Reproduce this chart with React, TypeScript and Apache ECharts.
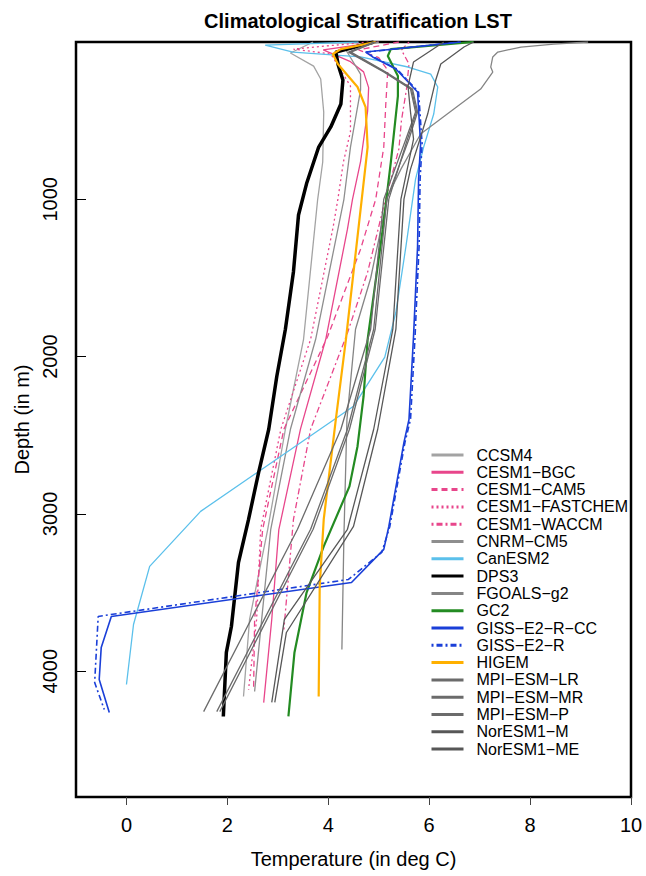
import React, { useEffect, useRef } from "react";
import * as echarts from "echarts";

// ---------- data (temperature in deg C, depth in m) ----------
const xTicks = [0, 2, 4, 6, 8, 10];
const yTicks = [1000, 2000, 3000, 4000];

const ccsm4Depth = [0, 70, 153, 235, 445, 763, 1000, 1890, 2462, 3098, 3671, 4161];
const ccsm4Temp = [3.7, 3.25, 3.71, 3.85, 3.91, 3.89, 3.79, 3.51, 3.15, 2.8, 2.44, 2.32];

const bgcDepth = [0, 50, 125, 190, 290, 440, 760, 1000, 1190, 1890, 2460, 3100, 3670, 4200];
const bgcTemp = [5.0, 3.9, 4.44, 4.7, 4.8, 4.78, 4.64, 4.48, 4.38, 3.95, 3.45, 3.02, 2.88, 2.72];

const cam5Depth = [0, 50, 100, 180, 394, 668, 1000, 1317, 1871, 2462, 3098, 3671, 4117];
const cam5Temp = [5.4, 4.6, 5.0, 5.18, 5.14, 5.1, 4.94, 4.64, 3.99, 3.12, 2.7, 2.54, 2.52];

const fastDepth = [0, 45, 76, 280, 570, 763, 1000, 1170, 1890, 2462, 3098, 3671, 4117];
const fastTemp = [4.8, 3.31, 4.05, 4.44, 4.44, 4.3, 4.19, 4.1, 3.65, 3.06, 2.66, 2.58, 2.42];

const waccmDepth = [0, 51, 140, 300, 500, 680, 1043, 1463, 1850, 2462, 3035, 3735];
const waccmTemp = [5.6, 5.45, 5.6, 5.55, 5.45, 5.4, 5.1, 4.78, 4.38, 3.65, 3.31, 3.12];

const cnrmDepth = [0, 51, 204, 305, 668, 1000, 1890, 2462, 3098, 3671, 4129];
const cnrmTemp = [5.0, 4.35, 4.64, 4.64, 4.44, 4.31, 3.75, 3.25, 2.86, 2.68, 2.54];

const canDepth = [0, 20, 64, 95, 159, 204, 286, 458, 668, 872, 1298, 1718, 2004, 2316, 2984, 3334, 3703, 4085];
const canTemp = [4.6, 2.75, 3.3, 4.64, 5.58, 6.03, 6.17, 6.09, 5.89, 5.73, 5.54, 5.34, 5.12, 4.5, 1.47, 0.46, 0.14, 0.0];

const dpsDepth = [0, 64, 150, 242, 394, 540, 668, 900, 1100, 1460, 1826, 2125, 2462, 2736, 3035, 3309, 3716, 3881, 4288];
const dpsTemp = [4.9, 4.15, 4.2, 4.29, 4.25, 4.05, 3.81, 3.57, 3.41, 3.31, 3.15, 2.98, 2.82, 2.62, 2.42, 2.22, 2.08, 1.98, 1.92];

const fgoalsDepth = [0, 13, 32, 64, 95, 159, 191, 299, 426, 585, 808, 980, 1502, 1826, 2399, 3143, 3862];
const fgoalsTemp = [9.15, 8.47, 7.82, 7.36, 7.26, 7.22, 7.26, 7.02, 6.49, 5.83, 5.44, 5.18, 4.84, 4.54, 4.37, 4.31, 4.27];

const gc2Depth = [0, 45, 89, 216, 344, 763, 1190, 1890, 2252, 2570, 2825, 3207, 3500, 3881, 4288];
const gc2Temp = [6.88, 5.24, 5.18, 5.38, 5.38, 5.24, 5.08, 4.78, 4.7, 4.58, 4.42, 3.91, 3.57, 3.33, 3.21];

const gissCcDepth = [0, 64, 95, 172, 318, 649, 872, 1298, 1871, 2399, 2545, 3080, 3226, 3436, 3652, 3849, 4053, 4263];
const gissCcTemp = [6.63, 4.74, 4.88, 5.34, 5.77, 5.83, 5.79, 5.77, 5.69, 5.6, 5.5, 5.2, 5.1, 4.46, -0.3, -0.5, -0.54, -0.34];

const gissDepth = [0, 64, 95, 172, 318, 649, 872, 1298, 1871, 2399, 2545, 3080, 3245, 3417, 3652, 4072, 4244];
const gissTemp = [6.6, 4.76, 4.9, 5.36, 5.79, 5.86, 5.82, 5.8, 5.72, 5.63, 5.52, 5.22, 5.06, 4.4, -0.56, -0.63, -0.44];

const higemDepth = [0, 45, 76, 140, 286, 414, 668, 1890, 2399, 3035, 3461, 4161];
const higemTemp = [4.94, 4.25, 4.09, 4.19, 4.58, 4.74, 4.78, 4.35, 4.15, 3.91, 3.83, 3.81];

const mpiDepth = [0, 64, 191, 299, 445, 617, 999, 1826, 2462, 3098, 4257];
const mpiLrTemp = [4.9, 4.4, 5.1, 5.63, 5.73, 5.54, 5.1, 4.84, 4.25, 3.39, 1.53];
const mpiMrTemp = [4.95, 4.45, 5.14, 5.67, 5.77, 5.6, 5.16, 4.9, 4.38, 3.65, 1.79];
const mpiPTemp = [4.92, 4.42, 5.12, 5.65, 5.75, 5.57, 5.2, 4.93, 4.42, 3.7, 1.85];

const norMDepth = [0, 127, 280, 445, 617, 999, 1826, 2462, 3098, 3671, 4199];
const norMTemp = [6.29, 5.69, 5.58, 5.63, 5.69, 5.44, 5.28, 4.9, 4.38, 3.13, 2.88];

const norMeDepth = [0, 32, 140, 242, 458, 604, 808, 999, 1826, 2462, 3080, 3754, 4199];
const norMeTemp = [6.88, 6.69, 6.23, 6.13, 5.97, 5.83, 5.63, 5.5, 5.34, 4.98, 4.5, 3.17, 2.94];

// ---------- styles ----------
const PINK = "#E8468B";
const BLUE = "#1A3FD8";

type Spec = {
  name: string;
  temp: number[];
  depth: number[];
  color: string;
  width: number;
  type: any;
};

const specs: Spec[] = [
  { name: "CCSM4", temp: ccsm4Temp, depth: ccsm4Depth, color: "#A3A3A3", width: 1.3, type: "solid" },
  { name: "CESM1−BGC", temp: bgcTemp, depth: bgcDepth, color: PINK, width: 1.3, type: "solid" },
  { name: "CESM1−CAM5", temp: cam5Temp, depth: cam5Depth, color: PINK, width: 1.3, type: [6, 4] },
  { name: "CESM1−FASTCHEM", temp: fastTemp, depth: fastDepth, color: PINK, width: 1.3, type: [2, 3] },
  { name: "CESM1−WACCM", temp: waccmTemp, depth: waccmDepth, color: PINK, width: 1.3, type: [2, 3, 6, 3] },
  { name: "CNRM−CM5", temp: cnrmTemp, depth: cnrmDepth, color: "#8E8E8E", width: 1.3, type: "solid" },
  { name: "CanESM2", temp: canTemp, depth: canDepth, color: "#5BC0EB", width: 1.3, type: "solid" },
  { name: "DPS3", temp: dpsTemp, depth: dpsDepth, color: "#000000", width: 3.5, type: "solid" },
  { name: "FGOALS−g2", temp: fgoalsTemp, depth: fgoalsDepth, color: "#858585", width: 1.3, type: "solid" },
  { name: "GC2", temp: gc2Temp, depth: gc2Depth, color: "#238B22", width: 2.2, type: "solid" },
  { name: "GISS−E2−R−CC", temp: gissCcTemp, depth: gissCcDepth, color: BLUE, width: 1.6, type: "solid" },
  { name: "GISS−E2−R", temp: gissTemp, depth: gissDepth, color: BLUE, width: 1.6, type: [2, 3, 6, 3] },
  { name: "HIGEM", temp: higemTemp, depth: higemDepth, color: "#FFB000", width: 2.2, type: "solid" },
  { name: "MPI−ESM−LR", temp: mpiLrTemp, depth: mpiDepth, color: "#6B6B6B", width: 1.3, type: "solid" },
  { name: "MPI−ESM−MR", temp: mpiMrTemp, depth: mpiDepth, color: "#6B6B6B", width: 1.3, type: "solid" },
  { name: "MPI−ESM−P", temp: mpiPTemp, depth: mpiDepth, color: "#6B6B6B", width: 1.3, type: "solid" },
  { name: "NorESM1−M", temp: norMTemp, depth: norMDepth, color: "#575757", width: 1.3, type: "solid" },
  { name: "NorESM1−ME", temp: norMeTemp, depth: norMeDepth, color: "#575757", width: 1.3, type: "solid" },
];

const FONT = "'Liberation Sans', Arial, Helvetica, sans-serif";

export default function App() {
  const ref = useRef<HTMLDivElement>(null);

  useEffect(() => {
    if (!ref.current) return;
    const chart = echarts.init(ref.current, undefined, { renderer: "svg" });

    const series = specs.map((s) => ({
      name: s.name,
      type: "line",
      data: s.temp.map((t, i) => [t, s.depth[i]]),
      symbol: "none",
      showSymbol: false,
      smooth: false,
      clip: true,
      lineStyle: { color: s.color, width: s.width, type: s.type },
      itemStyle: { color: s.color },
      emphasis: { disabled: true },
    }));

    chart.setOption({
      animation: false,
      backgroundColor: "#ffffff",
      textStyle: { fontFamily: FONT },
      title: {
        text: "Climatological Stratification LST",
        left: 353,
        textAlign: "center",
        top: 6,
        textStyle: { fontFamily: FONT, fontSize: 20, fontWeight: "bold", color: "#000" },
      },
      grid: {
        left: 76,
        right: 15,
        top: 42,
        bottom: 79,
        show: true,
        borderColor: "#000",
        borderWidth: 2.5,
        backgroundColor: "transparent",
      },
      legend: {
        orient: "vertical",
        left: 430,
        top: 447,
        padding: 0,
        itemWidth: 32,
        itemHeight: 14,
        itemGap: 1.3,
        lineStyle: { width: 3 },
        itemStyle: { opacity: 0 },
        selectedMode: false,
        textStyle: {
          fontFamily: FONT,
          fontSize: 16,
          lineHeight: 16,
          color: "#000",
          padding: [0, 0, 0, 8],
        },
        data: specs.map((s) => s.name),
      },
      xAxis: {
        type: "value",
        min: -1,
        max: 10,
        name: "Temperature (in deg C)",
        nameLocation: "middle",
        nameGap: 52,
        nameTextStyle: { fontFamily: FONT, fontSize: 20, color: "#000" },
        axisLine: { show: false, onZero: false },
        splitLine: { show: false },
        axisTick: {
          show: true,
          customValues: xTicks,
          length: 8,
          lineStyle: { color: "#444", width: 1 },
        },
        axisLabel: {
          customValues: xTicks,
          margin: 18,
          fontFamily: FONT,
          fontSize: 20,
          color: "#000",
        },
      },
      yAxis: {
        type: "value",
        inverse: true,
        min: 0,
        max: 4800,
        name: "Depth (in m)",
        nameLocation: "middle",
        nameGap: 44,
        nameRotate: 90,
        nameTextStyle: { fontFamily: FONT, fontSize: 20, color: "#000" },
        axisLine: { show: false, onZero: false },
        splitLine: { show: false },
        axisTick: {
          show: true,
          inside: true,
          customValues: yTicks,
          length: 10,
          lineStyle: { color: "#000", width: 1 },
        },
        axisLabel: {
          customValues: yTicks,
          rotate: 90,
          margin: 16,
          fontFamily: FONT,
          fontSize: 20,
          color: "#000",
          formatter: (v: number) => String(v),
        },
      },
      series,
    });

    return () => chart.dispose();
  }, []);

  return (
    <div
      ref={ref}
      style={{ position: "fixed", left: 0, top: 0, width: 646, height: 876, background: "#fff" }}
    />
  );
}
